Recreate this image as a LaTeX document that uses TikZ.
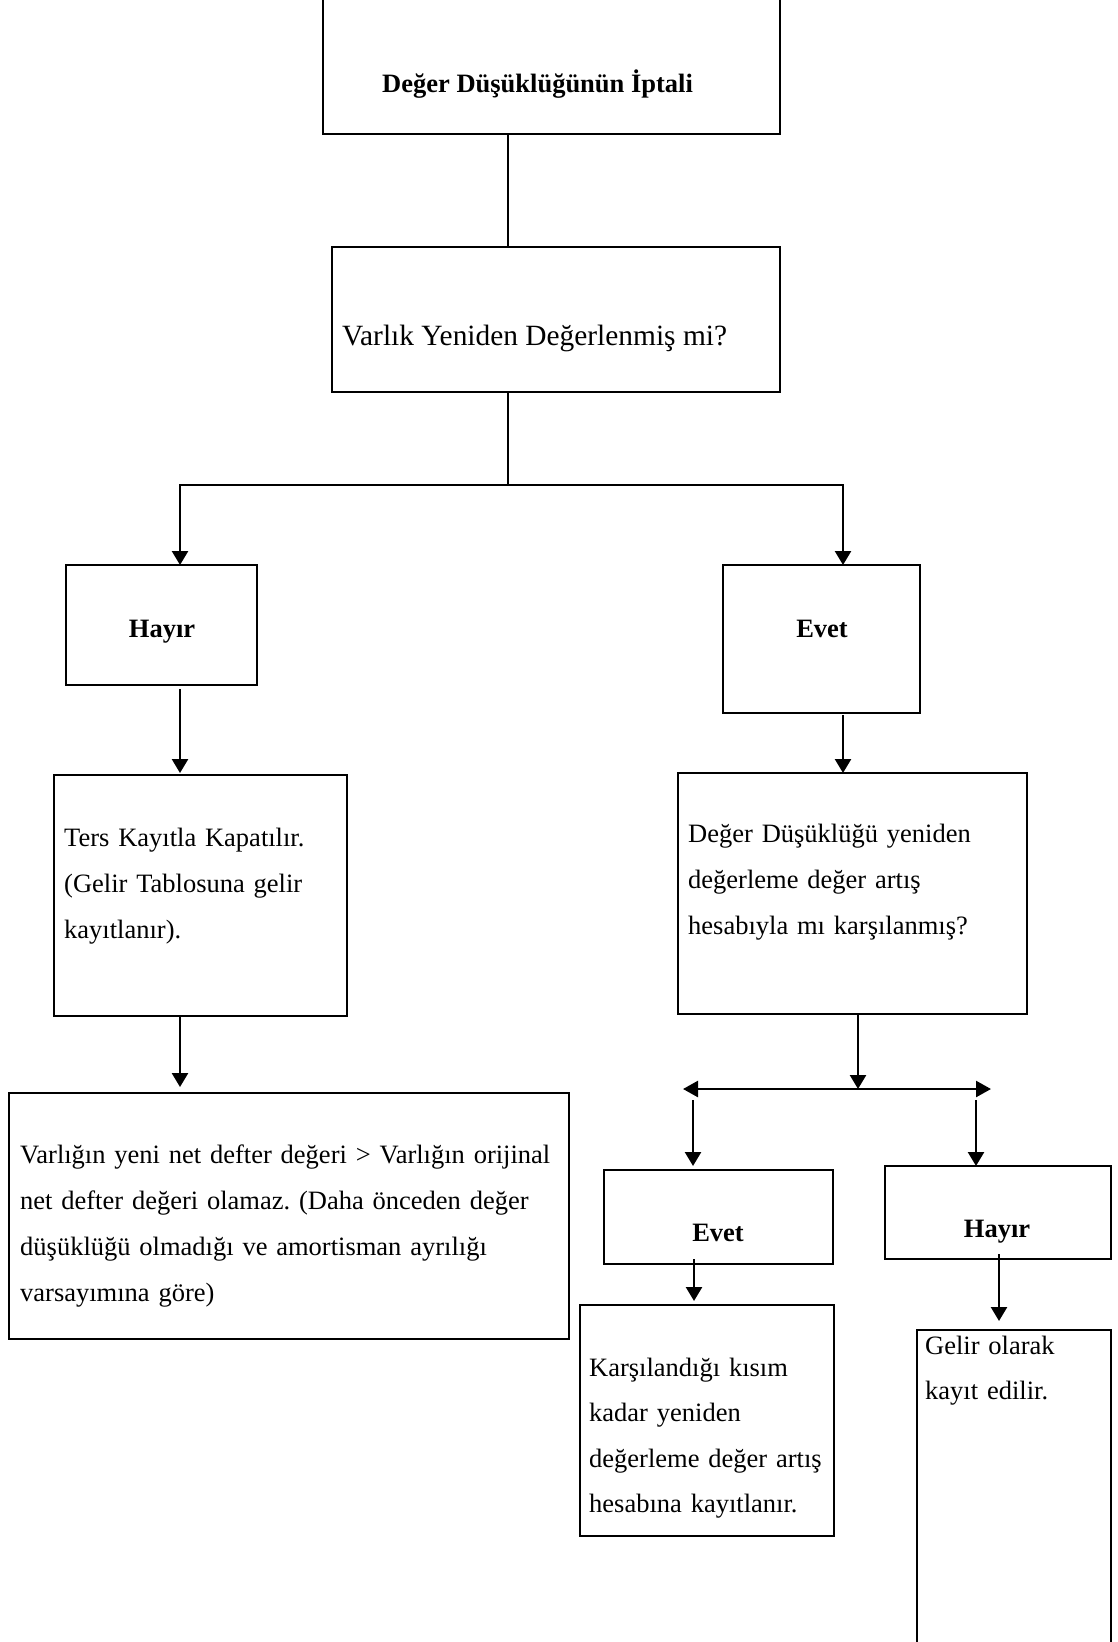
\documentclass[tikz,border=0pt]{standalone}
\usepackage{fontspec}
\setmainfont{Liberation Serif}
\usetikzlibrary{arrows.meta,fit}
\tikzset{
  box/.style={draw, line width=2.2pt, inner sep=0pt, outer sep=0pt},
  thinline/.style={line width=1.6pt},
  arr/.style={line width=2.5pt, -{Triangle[width=16pt,length=14pt]}},
  darr/.style={line width=2.5pt, {Triangle[width=16pt,length=15pt]}-{Triangle[width=16pt,length=15pt]}},
  head/.style={font=\fontsize{26.5}{32}\selectfont\bfseries, inner sep=0pt, anchor=base},
  body/.style={font=\fontsize{26.5}{46}\selectfont, inner sep=0pt, anchor=base west, align=left, text width=#1},
}
\begin{document}
\frenchspacing
\begin{tikzpicture}[x=1pt,y=-1pt]
\useasboundingbox (0,0) rectangle (1117,1642);
\clip (0,0) rectangle (1117,1642);

% frames
\node[box, fit={(323,-20) (780,134)}] (top) {};
\node[box, fit={(332,247) (780,392)}] (vary) {};
\node[box, fit={(66,565) (257,685)}] (hayir) {};
\node[box, fit={(723,565) (920,713)}] (evet) {};
\node[box, fit={(54,775) (347,1016)}] (ters) {};
\node[box, fit={(678,773) (1027,1014)}] (deg) {};
\node[box, fit={(9,1093) (569,1339)}] (varl) {};
\node[box, fit={(604,1170) (833,1264)}] (evetb) {};
\node[box, fit={(885,1166) (1111,1259)}] (hayirb) {};
\node[box, fit={(580,1305) (834,1536)}] (kars) {};
\node[box, fit={(917,1330) (1111,1680)}] (gelir) {};

% texts
\node[head, anchor=base west] (topT) at (382,92) {Değer Düşüklüğünün İptali};
\node[font=\fontsize{29.4}{35}\selectfont, inner sep=0pt, anchor=base west] (varyT) at (342,345) {Varlık Yeniden Değerlenmiş mi?};
\node[head] (hayirT) at (162,637) {Hayır};
\node[head] (evetT) at (822,637) {Evet};
\node[body=300pt] (tersT) at (64,846) {Ters Kayıtla Kapatılır.\\(Gelir Tablosuna gelir\\kayıtlanır).};
\node[body=600pt] (varlT) at (20,1163) {Varlığın yeni net defter değeri > Varlığın orijinal\\net defter değeri olamaz. (Daha önceden değer\\düşüklüğü olmadığı ve amortisman ayrılığı\\varsayımına göre)};
\node[body=380pt] (degT) at (688,842) {Değer Düşüklüğü yeniden\\değerleme değer artış\\hesabıyla mı karşılanmış?};
\node[head] (evetbT) at (718,1241) {Evet};
\node[head] (hayirbT) at (997,1237) {Hayır};
\node[body=320pt, font=\fontsize{26.5}{45.5}\selectfont] (karsT) at (589,1376) {Karşılandığı kısım\\kadar yeniden\\değerleme değer artış\\hesabına kayıtlanır.};
\node[body=260pt, font=\fontsize{26.5}{45}\selectfont] (gelirT) at (925,1354) {Gelir olarak\\kayıt edilir.};

% connector points
\coordinate (split1) at (508,485);
\coordinate (colL) at (180,0);
\coordinate (colR) at (843,0);
\coordinate (split2) at (858,1089);
\coordinate (fanL) at (683,1089);
\coordinate (fanR) at (991,1089);
\coordinate (dropL) at (693,1100);
\coordinate (dropR) at (976,1100);
\coordinate (colEb) at (694,0);
\coordinate (colHb) at (999,0);

% connectors
\draw[thinline] (split1 |- top.south) -- (split1 |- vary.north);
\draw[thinline] (split1 |- vary.south) -- (split1);
\draw[arr] (split1) -| (colL |- hayir.north);
\draw[arr] (split1) -| (colR |- evet.north);
\draw[arr, shorten <=4pt, shorten >=2pt] (colL |- hayir.south) -- (colL |- ters.north);
\draw[arr, shorten >=6pt] (colL |- ters.south) -- (colL |- varl.north);
\draw[arr, shorten <=2pt] (colR |- evet.south) -- (colR |- deg.north);
\draw[arr] (split2 |- deg.south) -- (split2);
\draw[darr] (fanL) -- (fanR);
\draw[arr, shorten >=4pt] (dropL) -- (dropL |- evetb.north);
\draw[arr] (dropR) -- (dropR |- hayirb.north);
\draw[arr, shorten <=-5pt, shorten >=4pt] (colEb |- evetb.south) -- (colEb |- kars.north);
\draw[arr, shorten <=-5pt, shorten >=9pt] (colHb |- hayirb.south) -- (colHb |- gelir.north);
\end{tikzpicture}
\end{document}
